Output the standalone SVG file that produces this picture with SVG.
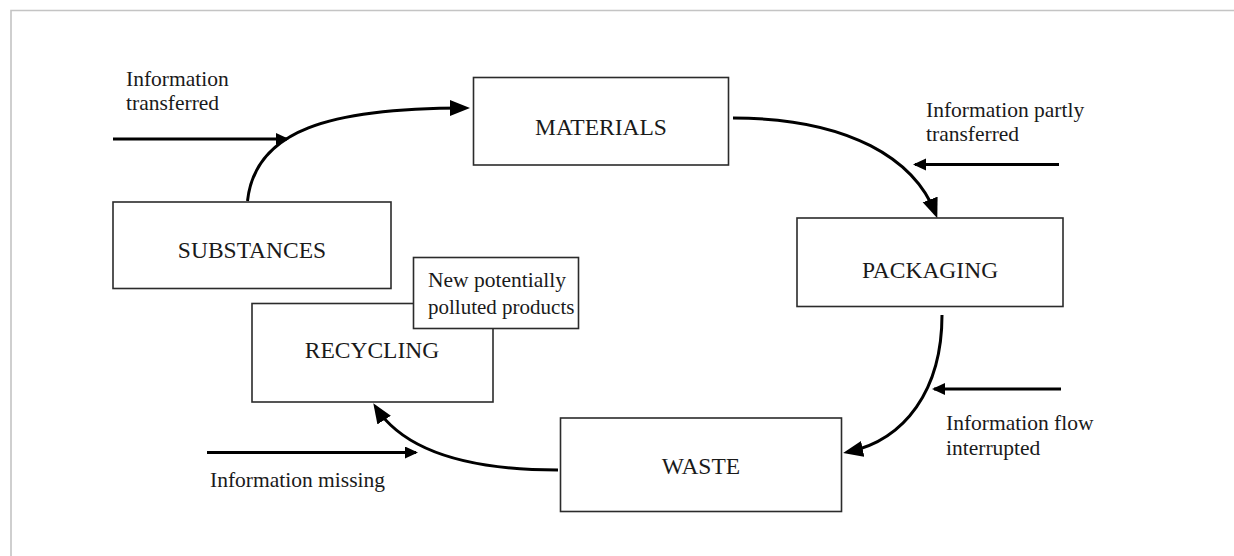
<svg xmlns="http://www.w3.org/2000/svg" width="1234" height="556" viewBox="0 0 1234 556">
<defs>
<style>
.box{fill:#fff;stroke:#2b2b2b;stroke-width:1.6}
.lbl{font-family:"Liberation Serif","Times New Roman",serif;font-size:23.5px;fill:#1a1a1a;text-anchor:middle}
.txt{font-family:"Liberation Serif","Times New Roman",serif;font-size:21.5px;fill:#1a1a1a}
.flow{fill:none;stroke:#000;stroke-width:3;marker-end:url(#big)}
.info{fill:none;stroke:#000;stroke-width:3;marker-end:url(#small)}
</style>
<marker id="big" markerUnits="userSpaceOnUse" markerWidth="21" markerHeight="17" refX="15" refY="8" orient="auto">
<path d="M0,0 L20,8 L0,16 z" fill="#000"/>
</marker>
<marker id="small" markerUnits="userSpaceOnUse" markerWidth="15" markerHeight="14" refX="11" refY="6" orient="auto">
<path d="M0,0 L13,6 L0,12 z" fill="#000"/>
</marker>
</defs>
<rect width="1234" height="556" fill="#fff"/>
<path d="M11,556 L11,10.5 L1234,10.5" fill="none" stroke="#c4c4c4" stroke-width="1.6"/>

<g id="connectors">
<path class="flow" d="M247.5,201 C255,130 330,108 465,108"/>
<path class="flow" d="M733,118 C850,118 915,160 935.5,213.5"/>
<path class="flow" d="M942,315 C942,390 905,440 848,452"/>
<path class="flow" d="M558,470 C490,470 410,460 376,407.5"/>
<path class="info" d="M113,139 L287,139"/>
<path class="info" d="M1059,164.5 L915,164.5"/>
<path class="info" d="M1061,389 L934,389"/>
<path class="info" d="M207,452.5 L416,452.5"/>
</g>

<g id="materials">
<rect class="box" x="473.5" y="77.5" width="255" height="87.5"/>
<text class="lbl" x="601" y="135">MATERIALS</text>
</g>
<g id="packaging">
<rect class="box" x="797" y="218" width="266" height="88.5"/>
<text class="lbl" x="930" y="278">PACKAGING</text>
</g>
<g id="substances">
<rect class="box" x="113" y="202" width="278" height="86.5"/>
<text class="lbl" x="252" y="258">SUBSTANCES</text>
</g>
<g id="recycling">
<rect class="box" x="252" y="303.5" width="241" height="98.5"/>
<text class="lbl" x="372" y="358">RECYCLING</text>
</g>
<g id="callout">
<rect class="box" x="413.5" y="257.5" width="165" height="71"/>
<text class="txt" x="428" y="287">New potentially</text>
<text class="txt" x="428" y="314" style="font-size:21px">polluted products</text>
</g>
<g id="waste">
<rect class="box" x="560.5" y="418" width="281" height="93.5"/>
<text class="lbl" x="701" y="474">WASTE</text>
</g>

<g id="labels">
<text class="txt" x="126" y="86">Information</text>
<text class="txt" x="126" y="110">transferred</text>
<text class="txt" x="926" y="117">Information partly</text>
<text class="txt" x="926" y="141">transferred</text>
<text class="txt" x="946" y="430">Information flow</text>
<text class="txt" x="946" y="455">interrupted</text>
<text class="txt" x="210" y="487">Information missing</text>
</g>
</svg>
